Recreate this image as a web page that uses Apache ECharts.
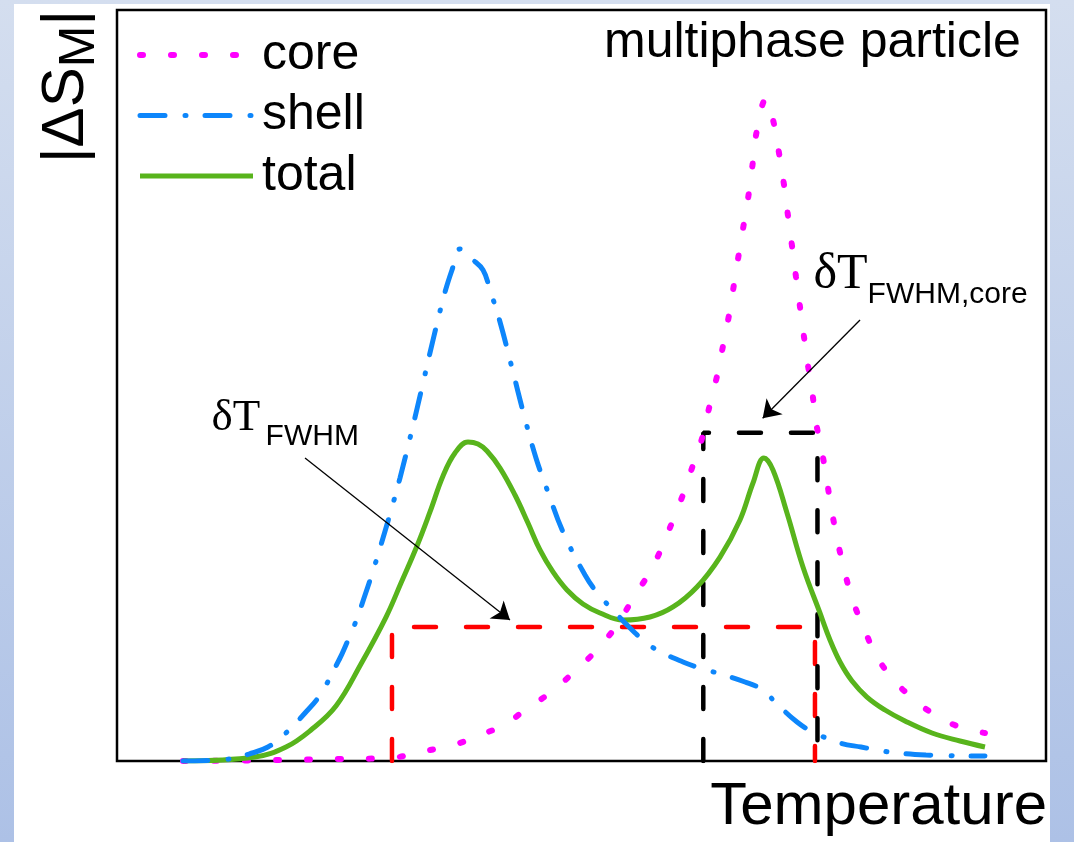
<!DOCTYPE html>
<html>
<head>
<meta charset="utf-8">
<script src="https://cdn.jsdelivr.net/npm/echarts@6/dist/echarts.min.js"></script>
<style>
html,body{margin:0;padding:0;background:#fff;}
#c{width:1074px;height:842px;}
</style>
</head>
<body>
<div id="c"></div>
<script>
// Temperature (arbitrary units 0-100) vs |ΔS_M| (arbitrary units 0-100)
const corePoints = [[7.10,0],[17.55,0.13],[24.00,0.27],[29.39,0.40],[32.62,1.20],[34.77,1.73],[36.92,2.40],[39.07,3.46],[41.66,4.79],[43.92,6.79],[46.29,8.79],[48.98,11.58],[51.02,13.98],[52.85,16.51],[54.36,19.17],[55.76,22.10],[57.37,25.17],[58.67,28.50],[59.85,32.09],[61.03,35.82],[62.00,39.41],[63.08,43.41],[63.83,47.54],[64.59,51.26],[65.23,55.26],[65.88,59.39],[66.42,63.52],[66.95,67.64],[67.49,71.64],[68.03,75.77],[68.46,79.89],[68.89,84.02],[69.86,88.15],[70.72,84.82],[71.26,80.96],[71.80,76.70],[72.23,72.57],[72.66,68.58],[73.09,64.45],[73.84,57.52],[74.27,53.53],[74.81,49.40],[75.24,45.14],[75.89,41.15],[76.43,37.15],[76.96,33.16],[77.61,29.03],[78.36,25.03],[79.22,21.30],[80.52,17.31],[81.70,14.11],[83.42,11.05],[85.47,8.52],[87.73,6.39],[90.42,4.66],[93.43,3.73]];
const shellPoints = [[7.10,0],[12.16,0.27],[14.21,0.93],[16.25,1.86],[18.19,3.73],[20.24,6.39],[21.85,8.79],[23.90,13.45],[24.87,16.11],[25.73,18.64],[26.59,21.70],[27.45,24.90],[28.31,28.36],[29.39,32.89],[30.46,37.68],[31.75,44.07],[32.94,50.33],[34.12,56.59],[35.31,62.45],[36.06,65.38],[36.92,68.18],[38.21,66.84],[39.40,65.38],[40.15,62.72],[41.23,58.46],[42.52,52.33],[43.81,46.07],[45.10,40.35],[46.39,35.82],[48.01,30.49],[50.38,24.77],[51.78,22.24],[53.28,20.24],[55.01,17.98],[56.62,16.11],[58.13,14.78],[60.93,13.18],[62.76,12.38],[64.59,11.72],[67.60,10.52],[69.54,9.45],[70.83,7.86],[73.20,5.19],[74.92,3.86],[77.83,2.40],[80.09,1.86],[83.10,1.20],[87.08,0.80],[93.43,0.67]];
const totalPoints = [[7.10,0],[14.85,0.53],[18.19,1.86],[20.88,4.13],[23.57,7.32],[26.26,12.92],[28.96,19.17],[30.57,23.70],[32.29,28.63],[33.69,33.16],[35.09,37.95],[36.38,41.01],[37.78,42.48],[38.86,42.21],[39.83,41.28],[41.23,39.01],[42.84,35.42],[44.24,31.69],[45.53,28.10],[46.93,25.17],[48.44,22.77],[50.16,20.91],[51.99,19.71],[54.47,18.77],[57.37,19.17],[59.85,20.51],[62.43,23.17],[64.91,27.16],[67.06,32.09],[68.46,37.02],[69.64,40.35],[70.61,38.75],[72.12,33.02],[73.84,25.83],[75.67,19.71],[76.75,16.11],[77.83,13.18],[79.12,10.65],[80.73,8.52],[82.67,6.79],[84.82,5.33],[87.73,3.73],[90.74,2.66],[93.43,1.86]];

// FWHM markers: [T_low, T_high] and level
const fwhmTotalT = [29.60, 75.13];
const fwhmTotalLevel = 17.84;
const fwhmCoreT = [63.11, 75.40];
const fwhmCoreLevel = 43.72;

// annotation arrows: [from, to]
const arrowTotal = [[20.24, 40.35], [42.30, 18.77]];
const arrowCore = [[79.98, 58.72], [69.50, 45.63]];

const seriesNames = ['core', 'shell', 'total'];
const colors = {core: '#ff00ff', shell: '#0d86fb', total: '#58b41c'};
const styles = {
  core: {color: colors.core, width: 6, type: [3, 28], cap: 'round'},
  shell: {color: colors.shell, width: 5, type: [25, 20, 1, 19], cap: 'round'},
  total: {color: colors.total, width: 5, type: 'solid', cap: 'butt'}
};

function boxData(t, level) {
  return [[t[0], 0], [t[0], level], [t[1], level], [t[1], 0]];
}

const chart = echarts.init(document.getElementById('c'));

function curve(name, pts, z) {
  return {
    name: name, type: 'line', data: pts, symbol: 'none', showSymbol: false,
    smooth: 0.4, lineStyle: styles[name], itemStyle: {color: colors[name]},
    z: z, silent: true, animation: false, emphasis: {disabled: true}
  };
}

const SANS = '"Liberation Sans", Arial, sans-serif';
const SERIF = '"Liberation Serif", "Times New Roman", serif';

function txt(x, y, text, size, family) {
  return {
    type: 'text', x: x, y: y, silent: true, z: 50,
    style: {text: text, font: size + 'px ' + family, fill: '#000',
            align: 'left', verticalAlign: 'middle', textAlign: 'left', textVerticalAlign: 'middle'}
  };
}

const option = {
  animation: false,
  grid: {left: 117, top: 10, width: 929, height: 751, show: true,
         borderColor: '#000', borderWidth: 2.5, backgroundColor: 'transparent'},
  xAxis: {
    type: 'value', min: 0, max: 100,
    axisLine: {show: false}, axisTick: {show: false}, axisLabel: {show: false}, splitLine: {show: false},
    name: 'Temperature', nameLocation: 'end', nameGap: 1,
    nameTextStyle: {fontSize: 60, fontFamily: SANS, color: '#000', align: 'right',
                    verticalAlign: 'top', lineHeight: 60, padding: [16, 0, 0, 0]}
  },
  yAxis: {
    type: 'value', min: 0, max: 100,
    axisLine: {show: false}, axisTick: {show: false}, axisLabel: {show: false}, splitLine: {show: false}
  },
  legend: {
    data: seriesNames.map(n => ({name: n, lineStyle: Object.assign({}, styles[n])})),
    orient: 'vertical', left: 137, top: 30, padding: 0,
    itemWidth: 113, itemHeight: 14, itemGap: 10.5, selectedMode: false,
    itemStyle: {opacity: 0},
    textStyle: {fontSize: 50, fontFamily: SANS, color: '#000', lineHeight: 50, padding: [0, 0, 0, 4]}
  },
  series: [
    {type: 'line', name: 'fwhmTotal', data: boxData(fwhmTotalT, fwhmTotalLevel), symbol: 'none',
     lineStyle: {color: '#ff0000', width: 4.5, type: [22, 30], cap: 'round'}, z: 3, silent: true, emphasis: {disabled: true}},
    {type: 'line', name: 'fwhmCore', data: boxData(fwhmCoreT, fwhmCoreLevel), symbol: 'none',
     lineStyle: {color: '#000000', width: 4.5, type: [22, 30], cap: 'round'}, z: 3, silent: true, emphasis: {disabled: true}},
    curve('core', corePoints, 4),
    curve('total', totalPoints, 5),
    curve('shell', shellPoints, 6),
    {type: 'lines', coordinateSystem: 'cartesian2d', silent: true, z: 10,
     symbol: ['none', 'arrow'], symbolSize: [11, 17],
     lineStyle: {color: '#000', width: 1.3, opacity: 1, curveness: 0},
     data: [{coords: arrowTotal}, {coords: arrowCore}]}
  ],
  graphic: [
    {type: 'rect', z: -20, silent: true, shape: {x: 0, y: 0, width: 1074, height: 842},
     style: {fill: {type: 'linear', x: 0, y: 0, x2: 0, y2: 1,
             colorStops: [{offset: 0, color: '#d4deef'}, {offset: 1, color: '#adc1e6'}]}}},
    {type: 'rect', z: -19, silent: true, shape: {x: 14, y: 4, width: 1036, height: 838}, style: {fill: '#ffffff'}},
    txt(604, 43, 'multiphase particle', 50, SANS),
    txt(211.6, 417.8, 'δT', 45, SERIF),
    txt(265.6, 436.6, 'FWHM', 30, SANS),
    txt(813.5, 275.1, 'δT', 50, SERIF),
    txt(867.6, 294.6, 'FWHM,core', 30, SANS),
    {type: 'group', x: 66, y: 163, rotation: Math.PI / 2, children: [
      txt(0, 0, '|ΔS', 60, SANS),
      txt(95.7, 14.5, 'M', 50, SANS),
      txt(137.4, 0, '|', 60, SANS)
    ]}
  ]
};
chart.setOption(option);
</script>
</body>
</html>
